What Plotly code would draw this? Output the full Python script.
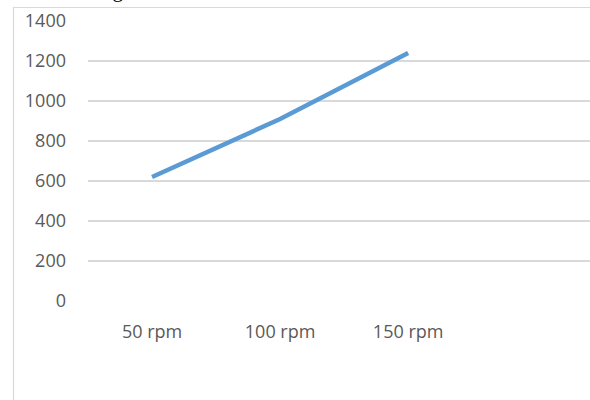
import plotly.graph_objects as go

categories = ["50 rpm", "100 rpm", "150 rpm"]
values = [620, 910, 1240]
y_ticks = [0, 200, 400, 600, 800, 1000, 1200, 1400]

W, H = 590, 400
L, T, B = 88, 21, 99
pw = W - L
ph = H - T - B

FONT = "Open Sans, sans-serif"

fig = go.Figure()
fig.add_trace(go.Scatter(
    x=categories, y=values, mode="lines",
    line=dict(color="#5b9bd5", width=4.5),
    hoverinfo="skip", showlegend=False,
))

def px_x(x):
    return (x - L) / pw

def px_y(y):
    return (H - B - y) / ph

fig.update_layout(
    width=W, height=H,
    margin=dict(l=L, r=0, t=T, b=B),
    paper_bgcolor="white", plot_bgcolor="white",
    xaxis=dict(
        type="category", range=[-0.5, 3.42],
        showgrid=False, zeroline=False, showline=False,
        ticks="", tickfont=dict(family=FONT, size=18, color="#595959"),
        ticklabelstandoff=18,
    ),
    yaxis=dict(
        range=[0, 1400], tickvals=y_ticks,
        showgrid=True, gridcolor="#d9d9d9", gridwidth=1.5,
        zeroline=False, showline=False, ticks="",
        tickfont=dict(family=FONT, size=18, color="#595959"),
        ticklabelstandoff=21,
    ),
    shapes=[dict(
        type="rect", xref="paper", yref="paper",
        x0=px_x(13.5), x1=px_x(700), y0=px_y(420), y1=px_y(7.5),
        line=dict(color="#d9d9d9", width=1.2), fillcolor="rgba(0,0,0,0)", layer="below",
    )],
    annotations=[dict(
        text="ngan So", xref="paper", yref="paper",
        x=px_x(100), y=px_y(4.5), xanchor="left", yanchor="bottom",
        showarrow=False, font=dict(family="Liberation Serif, serif", size=21, color="black"),
    )],
)

fig.write_html("out.html")
